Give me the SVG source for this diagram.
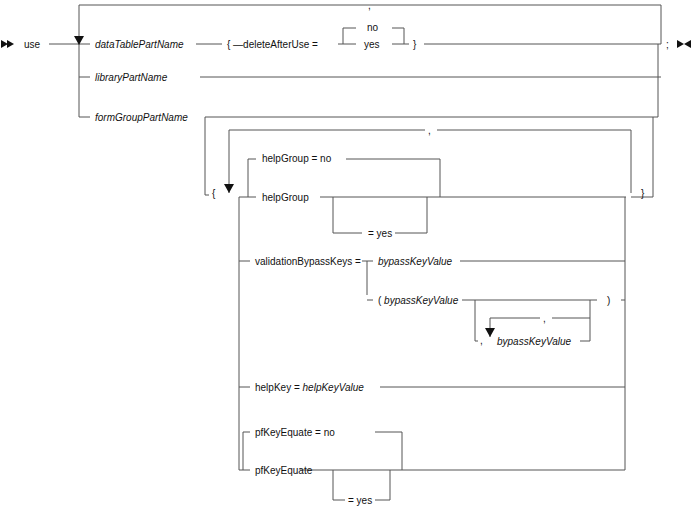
<svg xmlns="http://www.w3.org/2000/svg" width="692" height="507" viewBox="0 0 692 507">
<style>
text{font-family:"Liberation Sans",Arial,sans-serif;font-size:10px;fill:#111}
.i{font-style:italic}
path{fill:none;stroke:#555;stroke-width:1}
.a{fill:#111;stroke:none}
</style>
<rect width="692" height="507" fill="#fff"/>
<g id="connectors">
<path d="M49 44H90M79 44V5H661V44M79 44V117H90M79 77H90M196 44H222M338 44H343V28H356M343 44H356M392 28H404V44H392M424 44H661M404 44H409M200 77H661M205 117H658V44M205 117V195H209"/>
<path d="M229 193V130H425M437 130H631V193M631 197H653V117M239 197H256M239 197V470H250M248 197V159H256M346 159H440V197M320 197H626M333 197V233H362M395 233H427V197M625 197V470"/>
<path d="M239 261H250M362 261H367V295M367 261H373M367 300H373M460 261H625M462 300H597M475 300V341H478M590 300V341H580M490 337V318H540M552 318H590M621 300H625M239 387H250M380 387H625M243 470V432H250M375 432H402V470M300 470H625M333 470V500H345M375 500H390V470"/>
<path class="a" d="M74 36H84L79 45ZM224 184H234L229 193ZM485 328H495L490 337Z"/>
<path class="a" d="M1 40L8 44L1 48ZM7 40L14 44L7 48ZM677 40L684 44L677 48ZM691 40L684 44L691 48Z"/>
</g>
<g id="start"><text x="24" y="48">use</text></g>
<g id="dataTable"><text class="i" x="95" y="48">dataTablePartName</text><text x="227" y="48">{ —deleteAfterUse =</text><text x="367" y="31">no</text><text x="364" y="48">yes</text><text x="413" y="48">}</text><text x="368" y="9">,</text><text x="666" y="48">;</text></g>
<g id="library"><text class="i" x="95" y="81">libraryPartName</text></g>
<g id="formGroup"><text class="i" x="95" y="121">formGroupPartName</text><text x="212" y="197">{</text><text x="428" y="134">,</text><text x="641" y="197">}</text></g>
<g id="helpGroup"><text x="262" y="162">helpGroup = no</text><text x="262" y="201">helpGroup</text><text x="368" y="237">= yes</text></g>
<g id="validation"><text x="255" y="265">validationBypassKeys =</text><text class="i" x="378" y="265">bypassKeyValue</text><text x="378" y="304">( <tspan class="i">bypassKeyValue</tspan></text><text x="607" y="304">)</text><text x="543" y="322">,</text><text x="480" y="344">,</text><text class="i" x="497" y="345">bypassKeyValue</text></g>
<g id="helpKey"><text x="255" y="391">helpKey = <tspan class="i">helpKeyValue</tspan></text></g>
<g id="pfKey"><text x="255" y="436">pfKeyEquate = no</text><text x="255" y="474">pfKeyEquate</text><text x="348" y="504">= yes</text></g>
</svg>
